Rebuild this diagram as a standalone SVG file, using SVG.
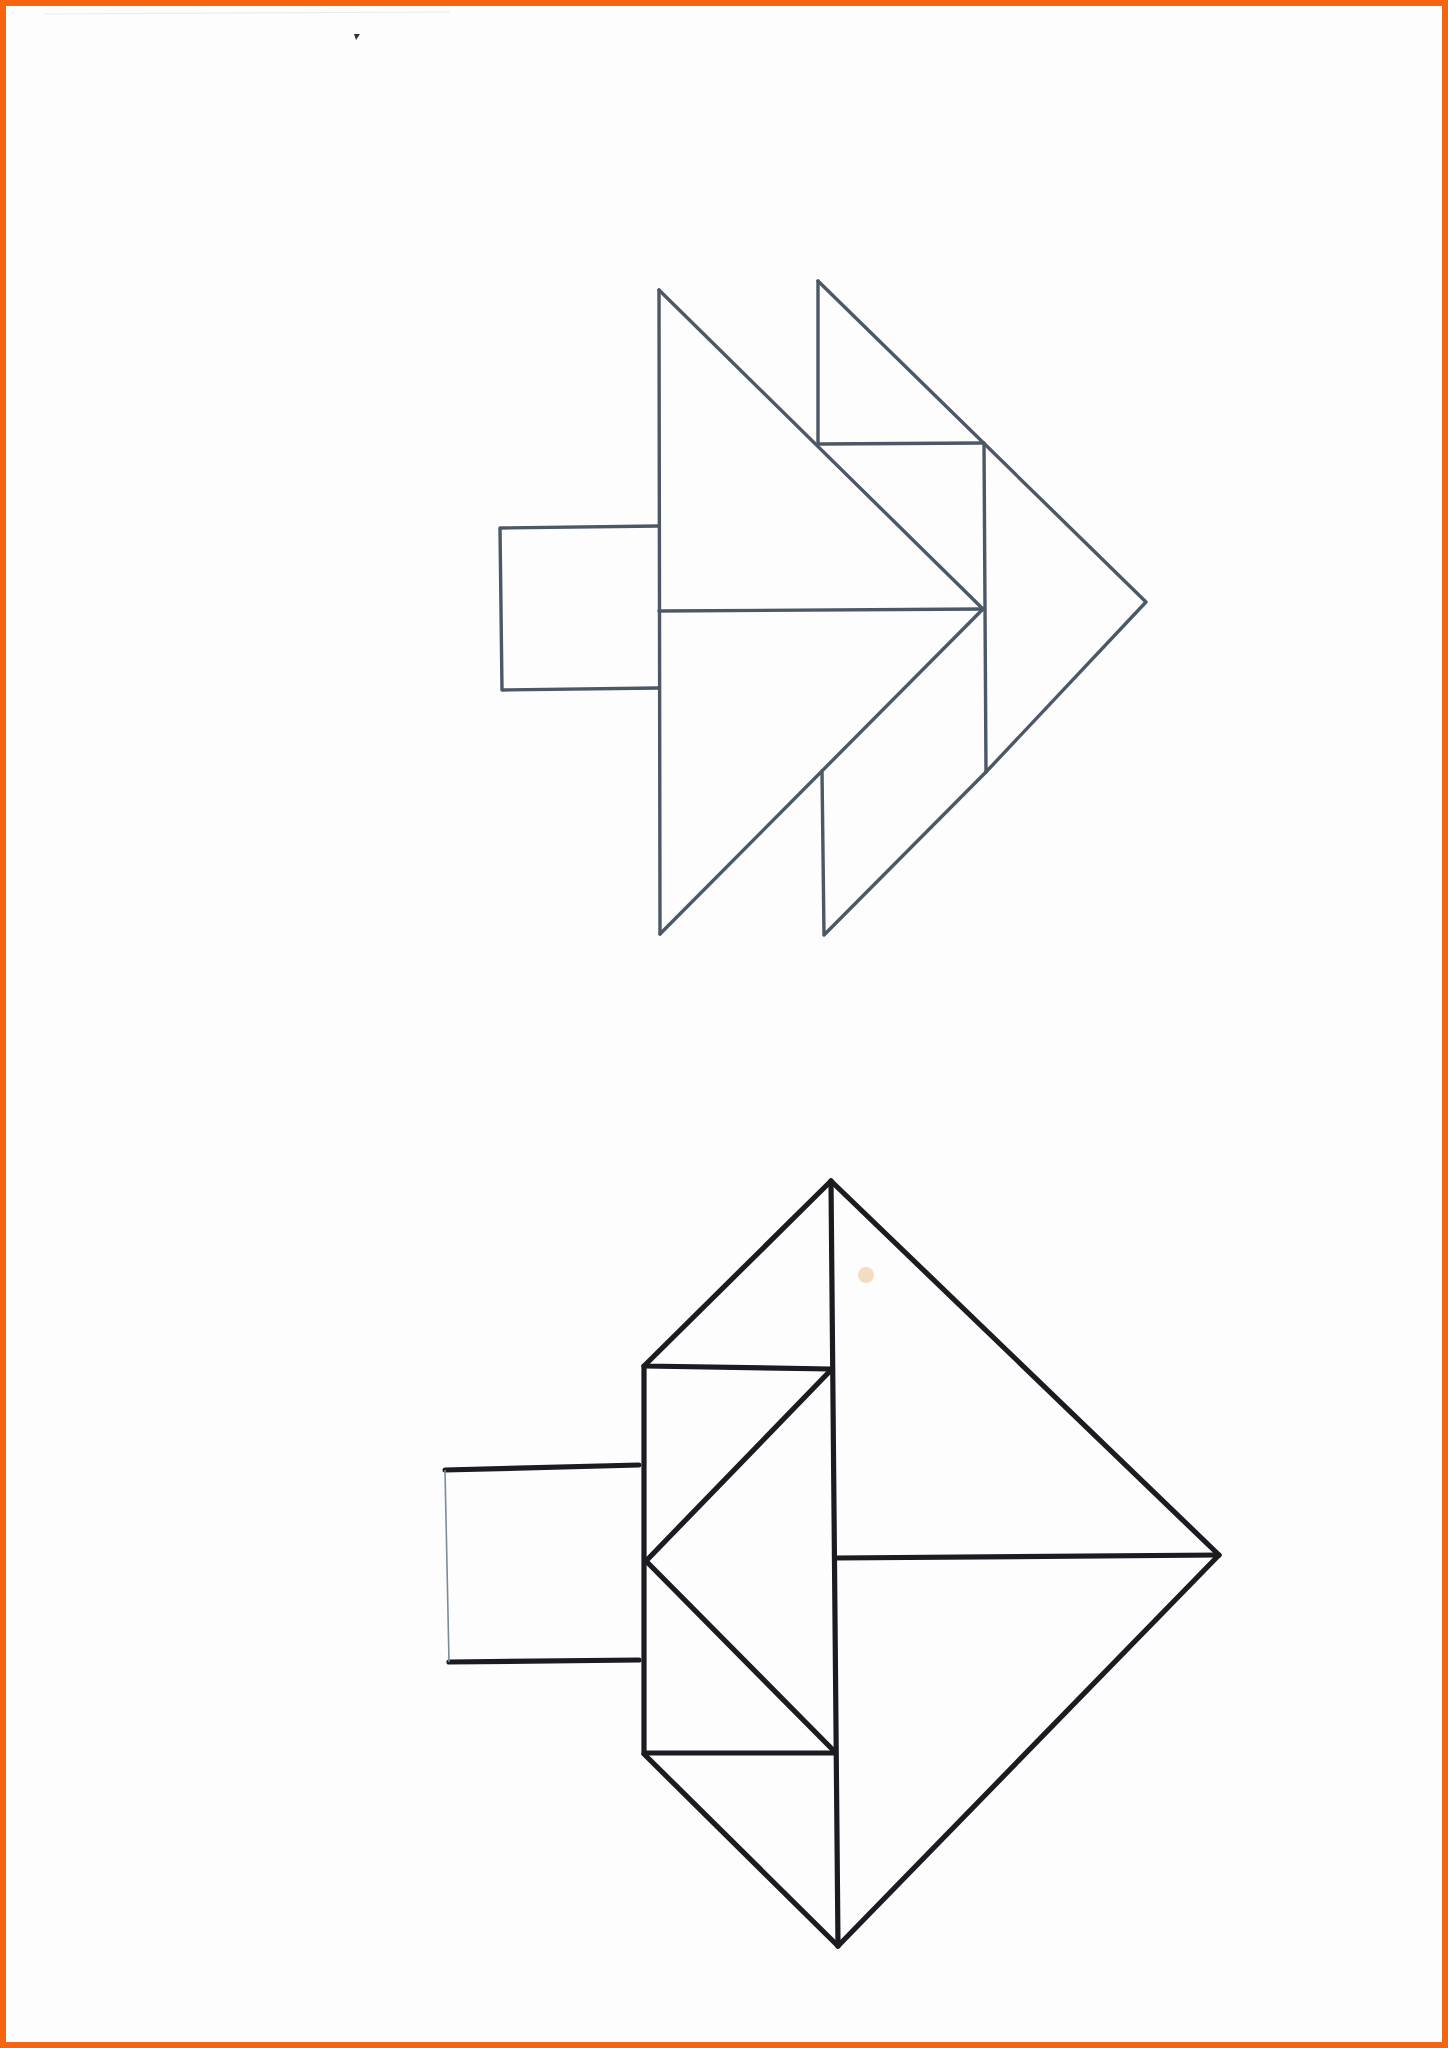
<svg xmlns="http://www.w3.org/2000/svg" width="1448" height="2048" viewBox="0 0 1448 2048">
<style>
.top{fill:none;stroke:#4d5866;stroke-width:3.4;stroke-linecap:round;stroke-linejoin:round}
.bot{fill:none;stroke:#1c1b22;stroke-width:5.2;stroke-linecap:round;stroke-linejoin:round}
.thin{fill:none;stroke:#7d8a98;stroke-width:1.6}
</style>
<rect x="0" y="0" width="1448" height="2048" fill="#f5640f"/>
<rect x="6" y="6" width="1436" height="2036" fill="#fdfdfd"/>
<path d="M45 14 L450 12" stroke="#ececE6" stroke-width="1.2" fill="none"/>
<path d="M354 34 L360 34 L356 40 Z" fill="#333"/>
<g id="upper-figure">
  <g id="upper-square"><path class="top" d="M659 526 L500 528 L502 690 L659 688"/></g>
  <g id="upper-big-triangles">
    <path class="top" d="M659 290 L660 934"/>
    <path class="top" d="M659 290 L983 609"/>
    <path class="top" d="M659 611 L983 609"/>
    <path class="top" d="M983 609 L660 934"/>
  </g>
  <g id="upper-small-triangle"><path class="top" d="M818 281 L818 444 L983 443"/></g>
  <g id="upper-right-triangle">
    <path class="top" d="M818 281 L1146 602 L986 772"/>
    <path class="top" d="M984 443 L986 772"/>
  </g>
  <g id="upper-parallelogram">
    <path class="top" d="M986 772 L824 935 L822 771"/>
  </g>
</g>
<g id="lower-figure">
  <g id="lower-square">
    <path class="bot" d="M445 1470 L639 1465"/>
    <path class="bot" d="M449 1662 L639 1660"/>
    <path class="thin" d="M445 1470 L449 1662"/>
  </g>
  <g id="lower-center">
    <path class="bot" d="M831 1181 L838 1946"/>
    <path class="bot" d="M831 1181 L644 1366 L831 1369"/>
    <path class="bot" d="M644 1366 L644 1753 L835 1753"/>
    <path class="bot" d="M831 1370 L646 1561 L835 1752"/>
    <path class="bot" d="M644 1754 L838 1946"/>
  </g>
  <g id="lower-big-triangles">
    <path class="bot" d="M831 1181 L1219 1555 L838 1946"/>
    <path class="bot" d="M836 1558 L1219 1555"/>
  </g>
</g>
<circle cx="866" cy="1275" r="8" fill="#f5dcc0"/>
</svg>
